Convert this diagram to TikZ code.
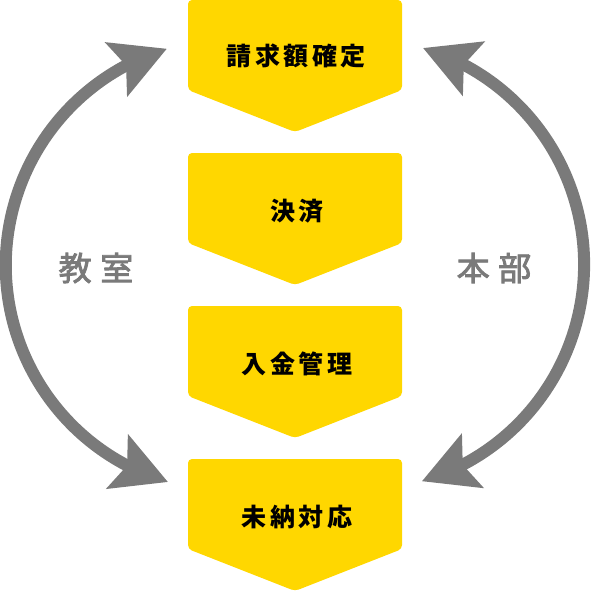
\documentclass[tikz,border=0pt]{standalone}
\usepackage{fontspec}
\usetikzlibrary{arrows.meta,bending}
\newfontfamily\cjkbox[LetterSpace=14]{Noto Sans CJK JP}
\newfontfamily\cjklab[LetterSpace=26,FakeBold=2.5]{Noto Sans CJK JP}
\definecolor{ylw}{RGB}{255,215,0}
\definecolor{arrgray}{RGB}{122,122,122}
\begin{document}
\begin{tikzpicture}[x=1pt,y=-1pt,
  boxtext/.style={font={\cjkbox\fontsize{25}{29}\selectfont\bfseries}, text=black, inner sep=0pt},
  side/.style={font={\cjklab\fontsize{33}{37}\selectfont}, text=arrgray, inner sep=0pt},
  shapebox/.style={fill=ylw, rounded corners=4pt},
  headtip/.tip={Stealth[length=54pt,width=57pt,inset=10pt,flex]},
  cyc/.style={draw=arrgray, line width=12pt, headtip-headtip}]
\useasboundingbox (0,0) rectangle (590,592);
% boxes
\foreach \t in {0,153,306,459} {
  \path[shapebox] (188,\t) -- (402,\t) -- (402,\t+90) -- (295,\t+132) -- (188,\t+90) -- cycle;
}
\node[boxtext] (b1) at (296,56) {請求額確定};
\node[boxtext] (b2) at (297,211) {決済};
\node[boxtext] (b3) at (297,364) {入金管理};
\node[boxtext] (b4) at (297,517) {未納対応};
% side labels
\node[side] (ls) at (96,268) {教室};
\node[side] (rs) at (494,268) {本部};
% cycle arrows
\coordinate (lb) at (168,482);
\coordinate (lt) at (167,48);
\coordinate (rt) at (423,48);
\coordinate (rb) at (422,482);
\draw[cyc] (lb) arc[start angle=106.4, end angle=253.3, radius=226];
\draw[cyc] (rt) arc[start angle=-73.3, end angle=73.6, radius=226];
\end{tikzpicture}
\end{document}
